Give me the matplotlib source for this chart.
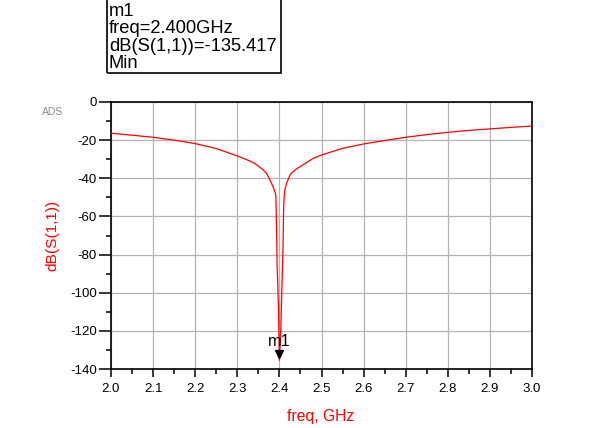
import matplotlib
matplotlib.use("Agg")
import matplotlib.pyplot as plt
from matplotlib.patches import Rectangle
from matplotlib.transforms import offset_copy
from matplotlib.ticker import MultipleLocator

plt.rcParams["font.family"] = ["Liberation Sans", "DejaVu Sans"]
plt.rcParams["axes.unicode_minus"] = False

# dB(S(1,1)), freq in GHz
freq = [2.00, 2.05, 2.10, 2.15, 2.20, 2.25, 2.30, 2.32, 2.34, 2.36, 2.37,
        2.38, 2.385, 2.39, 2.3915, 2.3935, 2.3945, 2.396, 2.398, 2.40,
        2.4035, 2.406, 2.4085, 2.410, 2.4115, 2.413, 2.417, 2.425, 2.43,
        2.44, 2.45, 2.46, 2.48, 2.50, 2.55, 2.60, 2.65, 2.70, 2.75, 2.80,
        2.85, 2.90, 2.95, 3.00]
s11_db = [-16.4, -17.4, -18.5, -20.0, -21.8, -24.4, -28.3, -30.0, -32.0,
          -35.3, -37.6, -42.0, -44.5, -47.5, -49.0, -69.0, -85.0, -95.0,
          -110.0, -135.417, -118.0, -97.0, -77.0, -56.0, -49.0, -46.0,
          -42.7, -38.3, -37.0, -35.2, -33.8, -32.4, -29.6, -27.8, -24.3,
          -22.0, -20.2, -18.5, -17.1, -15.9, -14.9, -14.1, -13.3, -12.6]

m1_freq = 2.400
m1_val = -135.417
x_ticks = [2.0, 2.1, 2.2, 2.3, 2.4, 2.5, 2.6, 2.7, 2.8, 2.9, 3.0]
y_ticks = [0, -20, -40, -60, -80, -100, -120, -140]

W, H = 607, 428
fig = plt.figure(figsize=(W / 100, H / 100), dpi=100)
ax = fig.add_axes([111 / W, 1 - 369 / H, (532 - 111) / W, (369 - 102) / H])

ax.plot(freq, s11_db, color="red", lw=0.9, zorder=3)

ax.set_xlim(2.0, 3.0)
ax.set_ylim(-140, 0)
ax.set_xticks(x_ticks)
ax.set_xticklabels([f"{t:.1f}" for t in x_ticks])
ax.set_yticks(y_ticks)
ax.xaxis.set_minor_locator(MultipleLocator(0.05))
ax.yaxis.set_minor_locator(MultipleLocator(10))
ax.grid(True, which="major", color="#b4b4b4", lw=0.9)
ax.set_axisbelow(True)
for s in ax.spines.values():
    s.set_color("black")
    s.set_linewidth(1.2)
ax.tick_params(axis="y", which="major", length=8.6, width=1.1, pad=1.5,
               labelsize=9.5, colors="black")
ax.tick_params(axis="y", which="minor", length=3.6, width=1.1)
ax.tick_params(axis="x", which="major", length=6, width=1.1, pad=4,
               labelsize=9.5, colors="black")
ax.tick_params(axis="x", which="minor", length=3.6, width=1.1)

# marker m1
tri = offset_copy(ax.transData, fig=fig, x=0, y=6, units="dots")
ax.plot([m1_freq], [m1_val], marker="v", color="black", ms=5.8,
        transform=tri, clip_on=False, zorder=5)
ax.annotate("m1", xy=(m1_freq, m1_val), xytext=(0, 10),
            textcoords="offset points", ha="center", va="baseline",
            fontsize=11.8, color="black", zorder=6)

# labels
fig.text(321 / W, 1 - 417 / H, "freq, GHz", color="red", fontsize=11.3,
         ha="center", va="center")
fig.text(52 / W, 1 - 235 / H, "dB(S(1,1))", color="red", fontsize=11.1,
         ha="center", va="center", rotation=90)
fig.text(53 / W, 1 - 112 / H, "ADS", color="#8c8c8c", fontsize=7.5,
         ha="center", va="center")

# marker readout box
fig.patches.append(Rectangle((107 / W, 1 - 73 / H), (281 - 107) / W, 80 / H,
                             transform=fig.transFigure, fill=False,
                             edgecolor="black", lw=1.2))
fig.text(109 / W, 1 - 3 / H,
         f"m1\nfreq={m1_freq:.3f}GHz\ndB(S(1,1))={m1_val:.3f}\nMin",
         fontsize=13.2, ha="left", va="top", linespacing=1.02, color="black")

fig.savefig("out.png", dpi=100)
